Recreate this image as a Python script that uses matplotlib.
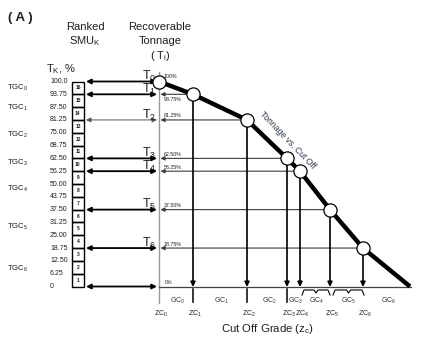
import matplotlib
matplotlib.use("Agg")
import matplotlib.pyplot as plt
from matplotlib.patches import Rectangle

plt.rcParams['font.family'] = ['Liberation Sans', 'DejaVu Sans']
plt.rcParams['mathtext.fontset'] = 'custom'
plt.rcParams['mathtext.rm'] = 'Liberation Sans'
plt.rcParams['mathtext.it'] = 'Liberation Sans:italic'
plt.rcParams['mathtext.default'] = 'regular'

# Ranked SMU table: cumulative tonnage levels (%) and their labels
rank_levels = [0, 6.25, 12.5, 18.75, 25.0, 31.25, 37.5, 43.75, 50.0,
               56.25, 62.5, 68.75, 75.0, 81.25, 87.5, 93.75, 100.0]
rank_labels = ['0', '6.25', '12.50', '18.75', '25.00', '31.25', '37.50', '43.75', '50.00',
               '56.25', '62.50', '68.75', '75.00', '81.25', '87.50', '93.75', '100.0']
smu_ranks = list(range(1, 17))

# Tonnage vs cut-off grade curve
cutoff = [0.0, 0.34, 0.88, 1.28, 1.41, 1.71, 2.04]      # ZC0 .. ZC6
tonnage = [100.0, 93.75, 81.25, 62.5, 56.25, 37.5, 18.75]  # T0 .. T6
tonnage_labels = ['100%', '93.75%', '81.25%', '62.50%', '56.25%', '37.50%', '18.75%']
curve_end = 2.51   # grade where recoverable tonnage reaches zero

tgc_labels = ['TGC$_0$', 'TGC$_1$', 'TGC$_2$', 'TGC$_3$', 'TGC$_4$', 'TGC$_5$', 'TGC$_6$']
tgc_pos = [96.8, 87.0, 73.8, 60.1, 47.5, 28.9, 8.8]

W, H = 426, 337
fig = plt.figure(figsize=(W / 100, H / 100), dpi=100)
ax = fig.add_axes([0, 0, 1, 1])

# pixel grid helpers for layout
def gx(px):
    return (px - 159) / 100.0

def gy(py):
    return (286.5 - py) / 2.05

ax.set_xlim(gx(0), gx(W))
ax.set_ylim(gy(H), gy(0))
ax.axis('off')

ink = '#1e1e1e'

# headings
ax.text(gx(8), gy(18), '( A )', fontsize=9.5, fontweight='bold', va='center', ha='left', color=ink)
ax.text(gx(85), gy(27), 'Ranked', fontsize=8, ha='center', va='center', color=ink)
ax.text(gx(85), gy(41), 'SMU$_\\mathrm{K}$', fontsize=8, ha='center', va='center', color=ink)
ax.text(gx(160), gy(27), 'Recoverable', fontsize=8, ha='center', va='center', color=ink)
ax.text(gx(160), gy(41), 'Tonnage', fontsize=8, ha='center', va='center', color=ink)
ax.text(gx(160), gy(56), '( T$_\\mathrm{i}$)', fontsize=8, ha='center', va='center', color=ink)
ax.text(gx(46), gy(69), 'T$_\\mathrm{K}$, %', fontsize=8, ha='left', va='center', color=ink)

# ranked table
for lvl, lab in zip(rank_levels, rank_labels):
    ax.text(gx(50), lvl, lab, fontsize=5, ha='left', va='center', color=ink)
for k in smu_ranks:
    lo = rank_levels[k - 1]
    ax.add_patch(Rectangle((gx(72), lo), gx(84) - gx(72), rank_levels[k] - lo,
                           fill=False, ec='black', lw=1.0))
    ax.text(gx(78), lo + (rank_levels[k] - lo) / 2, str(k), fontsize=3.6,
            fontweight='bold', ha='center', va='center', color=ink)
for lab, pos in zip(tgc_labels, tgc_pos):
    ax.text(gx(7), pos, lab, fontsize=5.6, ha='left', va='center', color=ink)

# axes of the grade-tonnage plot
ax.plot([0, 0], [gy(72), gy(303)], color='#9a9a9a', lw=1.0, zorder=1)
ax.plot([0, gx(411)], [gy(287), gy(287)], color='#444444', lw=0.9, zorder=1)

# arrows from the table to the tonnage axis
for t in tonnage + [0]:
    thin = t == 81.25
    ax.annotate('', xy=(gx(157), t), xytext=(gx(86), t),
                arrowprops=dict(arrowstyle='<|-|>', color='#555555' if thin else 'black',
                                lw=0.7 if thin else 1.3, shrinkA=0, shrinkB=0,
                                mutation_scale=7))

# projections from the curve to both axes
for c, t in zip(cutoff[1:], tonnage[1:]):
    ax.annotate('', xy=(gx(160.5), t), xytext=(c, t),
                arrowprops=dict(arrowstyle='-|>', color='#3c3c3c', lw=0.8,
                                shrinkA=4, shrinkB=0, mutation_scale=6), zorder=2)
    ax.annotate('', xy=(c, gy(287)), xytext=(c, t),
                arrowprops=dict(arrowstyle='-|>', color='black', lw=1.2,
                                shrinkA=4, shrinkB=0, mutation_scale=7), zorder=3)

# tonnage curve with SMU points
ax.plot(cutoff + [curve_end], tonnage + [0], color='black', lw=3.2,
        solid_capstyle='butt', solid_joinstyle='round', zorder=4)
ax.plot(cutoff, tonnage, 'o', ms=9.5, mfc='white', mec='black', mew=0.9, zorder=5)
ax.text(gx(288), gy(140), 'Tonnage vs. Cut Off', fontsize=6.2, rotation=-46,
        rotation_mode='anchor', ha='center', va='center', color='#2f3850')

# T labels and percentage tags
for i, (t, lab) in enumerate(zip(tonnage, tonnage_labels)):
    ax.text(gx(142), t + 1.5 / 2.05, 'T$_{%d}$' % i, fontsize=9, ha='left',
            va='baseline', color=ink)
    if i == 0:
        py = 77
    elif i == 1:
        py = 286.5 - t * 2.05 + 5
    else:
        py = 286.5 - t * 2.05 - 4
    ax.text(gx(163.5), gy(py), lab, fontsize=3.8, ha='left', va='center', color=ink)
ax.text(gx(165), gy(283), '0%', fontsize=3.8, ha='left', va='center', color=ink)

# ticks and braces below the grade axis
for c in cutoff[1:4]:
    ax.plot([c, c], [gy(289), gy(302)], color='black', lw=1.1)

def brace(x0, x1, py):
    xm = (x0 + x1) / 2
    xs = [x0, x0 + 0.02, xm - 0.02, xm, xm + 0.02, x1 - 0.02, x1]
    ys = [gy(py + 5), gy(py), gy(py), gy(py + 3), gy(py), gy(py), gy(py + 5)]
    ax.plot(xs, ys, color='black', lw=0.8)

brace(cutoff[4] + 0.02, cutoff[5], 290)
brace(cutoff[5] + 0.03, cutoff[6] + 0.01, 290)

gc_edges = cutoff + [curve_end]
for i in range(7):
    xm = (gc_edges[i] + gc_edges[i + 1]) / 2
    ax.text(xm + 0.02, gy(301), 'GC$_{%d}$' % i, fontsize=5, ha='center', va='center',
            color='#333333')
for i, c in enumerate(cutoff):
    ax.text(c + 0.02, gy(314), 'ZC$_{%d}$' % i, fontsize=5.1, ha='center', va='center',
            color=ink)
ax.text(gx(267), gy(329), 'Cut Off Grade (z$_\\mathrm{c}$)', fontsize=8.2,
        ha='center', va='center', color=ink)

fig.savefig('out.png', dpi=100)
